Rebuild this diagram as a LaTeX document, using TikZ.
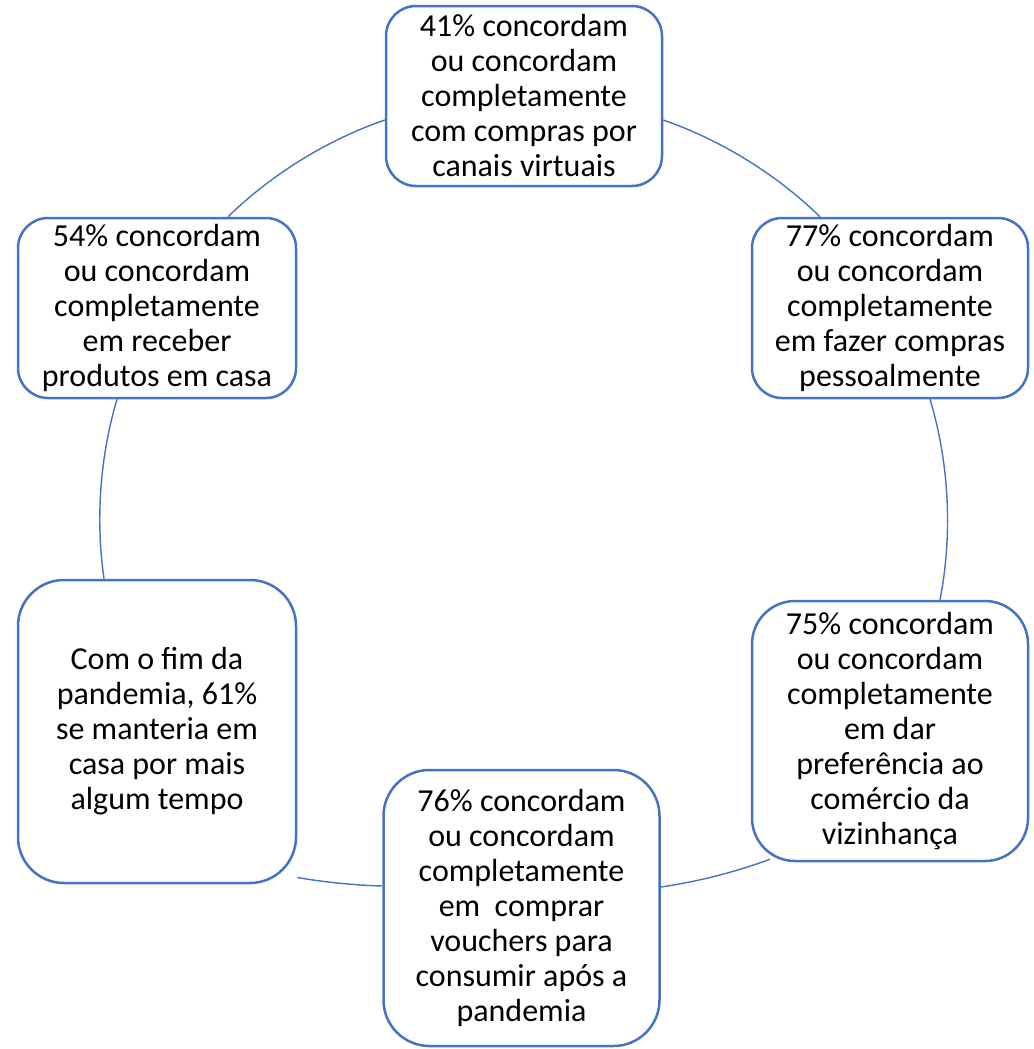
\documentclass[tikz,border=0pt]{standalone}
\usepackage{fontspec}
\setmainfont{Carlito}
\usetikzlibrary{calc, backgrounds}
\definecolor{ringblue}{HTML}{4472C4}

\begin{document}
\begin{tikzpicture}[x=0.5pt, y=-0.5pt,
    cyclebox/.style={draw=ringblue, line width=1.25pt, fill=white, align=center, inner sep=0pt,
      minimum width=138pt, font=\fontsize{16}{17.5}\selectfont},
    ring/.style={draw=ringblue, line width=0.7pt, looseness=0.85}]
  \useasboundingbox (0,0) rectangle (1033,1049);

  \node [cyclebox, minimum height=90pt, rounded corners=15pt] (virtual) at (524,96)
    {41\% concordam\\ou concordam\\completamente\\com compras por\\canais virtuais};
  \node [cyclebox, minimum height=90pt, rounded corners=15pt] (pessoal) at (890,308)
    {77\% concordam\\ou concordam\\completamente\\em fazer compras\\pessoalmente};
  \node [cyclebox, minimum height=130pt, rounded corners=21.5pt] (vizinhanca) at (890,731)
    {75\% concordam\\ou concordam\\completamente\\em dar\\preferência ao\\comércio da\\vizinhança};
  \node [cyclebox, minimum height=138pt, rounded corners=23pt] (vouchers) at (521.5,908)
    {76\% concordam\\ou concordam\\completamente\\em~ comprar\\vouchers para\\consumir após a\\pandemia};
  \node [cyclebox, minimum width=139pt, minimum height=151.5pt, rounded corners=23pt] (pandemia) at (157,731.5)
    {Com o fim da\\pandemia, 61\%\\se manteria em\\casa por mais\\algum tempo};
  \node [cyclebox, minimum width=139pt, minimum height=90pt, rounded corners=15pt] (entrega) at (157,308)
    {54\% concordam\\ou concordam\\completamente\\em receber\\produtos em casa};

  % arcs of the cycle, behind the boxes
  \begin{scope}[on background layer]
    \draw [ring] ($(virtual.east)+(0,24)$) to[bend left=12.5] ($(pessoal.north)+(-70,0)$);
    \draw [ring] ($(pessoal.south)+(40,0)$) to[bend left=13.9] ($(vizinhanca.north)+(50,0)$);
    \draw [ring] ($(vizinhanca.south)+(-120,-3)$) to[bend left=6] ($(vouchers.east)+(0,-21)$);
    \draw [ring] ($(vouchers.west)+(0,-22)$) to[bend left=4] ($(pandemia.east)+(0,146)$);
    \draw [ring] ($(pandemia.north)+(-53,0)$) to[bend left=12.4] ($(entrega.south)+(-40,0)$);
    \draw [ring] ($(entrega.north)+(71,0)$) to[bend left=12.5] ($(virtual.west)+(0,24)$);
  \end{scope}
\end{tikzpicture}
\end{document}
